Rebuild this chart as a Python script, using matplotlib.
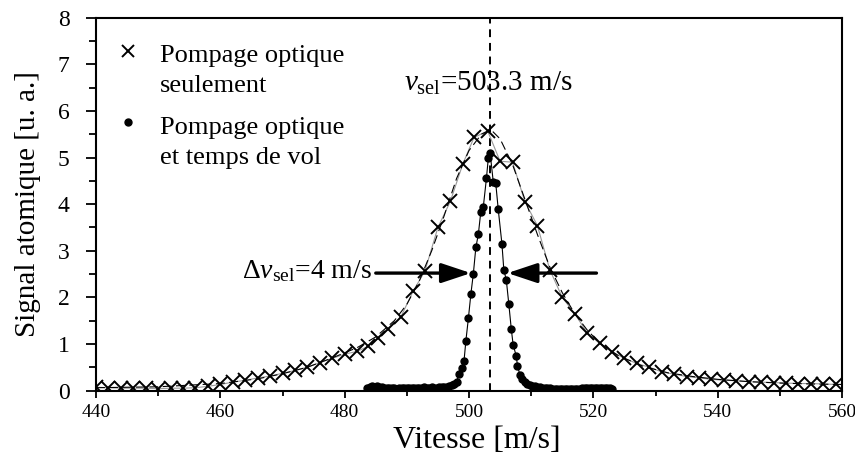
import numpy as np
import matplotlib.pyplot as plt

plt.rcParams['font.family'] = ['Liberation Serif', 'DejaVu Serif']
plt.rcParams['mathtext.fontset'] = 'custom'
plt.rcParams['mathtext.rm'] = 'Liberation Serif'
plt.rcParams['mathtext.it'] = 'Liberation Serif:italic'

# optical pumping only (crosses)
v_op = [440, 442, 444, 446, 448, 450, 452, 454, 456, 458, 460, 462, 464, 466, 468, 470,
        472, 474, 476, 478, 480, 482, 483.8, 485.4, 487, 489, 491, 492.9, 495, 497, 499,
        500.8, 503, 505, 507, 509, 511, 513, 515, 517, 519, 521, 523, 525, 527, 529, 531,
        533, 535, 537, 539, 541, 543, 545, 547, 549, 551, 553, 555, 557, 559]
s_op = [0.07, 0.06, 0.05, 0.05, 0.05, 0.04, 0.05, 0.05, 0.06, 0.09, 0.13, 0.18, 0.22, 0.27,
        0.31, 0.37, 0.43, 0.50, 0.60, 0.69, 0.78, 0.84, 0.95, 1.12, 1.31, 1.57, 2.13, 2.56,
        3.50, 4.06, 4.86, 5.43, 5.57, 4.92, 4.90, 4.05, 3.54, 2.59, 2.00, 1.65, 1.24, 1.01,
        0.83, 0.69, 0.58, 0.50, 0.40, 0.35, 0.30, 0.27, 0.24, 0.22, 0.21, 0.19, 0.18, 0.17,
        0.16, 0.15, 0.15, 0.14, 0.13]

# fitted curve (dashed)
v_fit = [440, 450, 460, 466, 470, 474, 478, 482, 485, 488, 490, 492, 494, 496, 498, 500,
         502, 503.5, 505, 507, 509, 511, 513, 515, 517, 519, 521, 524, 528, 532, 536, 540,
         545, 550, 555, 560]
s_fit = [0.06, 0.08, 0.15, 0.25, 0.36, 0.50, 0.70, 0.92, 1.15, 1.50, 1.85, 2.35, 3.00, 3.75,
         4.55, 5.15, 5.50, 5.60, 5.40, 4.85, 4.10, 3.35, 2.65, 2.10, 1.65, 1.30, 1.02, 0.75,
         0.52, 0.38, 0.30, 0.24, 0.19, 0.16, 0.14, 0.13]

# optical pumping + time of flight (dots)
v_tof = [483.6, 484.0, 484.4, 484.8, 485.2, 485.6, 486.0, 486.4, 486.8, 487.2, 487.6, 488.0,
         488.4, 488.8, 489.2, 489.6, 490.0, 490.4, 490.8, 491.2, 491.6, 492.0, 492.4, 492.8,
         493.2, 493.6, 494.0, 494.4, 494.8, 495.2, 495.6, 496.0, 496.4, 496.8, 497.2, 497.6,
         498.0, 498.4, 498.8, 499.2, 499.5, 499.9, 500.3, 500.7, 501.1, 501.5, 501.9, 502.3,
         502.8, 503.1, 503.4, 503.9, 504.3, 504.7, 505.3, 505.6, 506.0, 506.4, 506.8, 507.1,
         507.6, 507.8, 508.2, 508.6, 509.0, 509.4, 509.8, 510.2, 510.6, 511.0, 511.4, 511.8,
         512.2, 512.6, 513.0, 513.4, 513.8, 514.2, 514.6, 515.0, 515.4, 515.8, 516.2, 516.6,
         517.0, 517.4, 517.8, 518.2, 518.6, 519.0, 519.4, 519.8, 520.2, 520.6, 521.0, 521.4,
         521.8, 522.2, 522.6, 523.0]
s_tof = [0.06, 0.08, 0.09, 0.08, 0.09, 0.08, 0.07, 0.06, 0.06, 0.05, 0.05, 0.05,
         0.04, 0.05, 0.05, 0.06, 0.05, 0.05, 0.06, 0.06, 0.05, 0.06, 0.06, 0.07,
         0.06, 0.06, 0.07, 0.06, 0.06, 0.07, 0.07, 0.08, 0.08, 0.09, 0.11, 0.14,
         0.19, 0.35, 0.48, 0.64, 1.07, 1.55, 2.07, 2.51, 3.07, 3.35, 3.84, 3.94,
         4.55, 4.98, 5.09, 4.48, 4.45, 3.89, 3.14, 2.59, 2.37, 1.86, 1.32, 0.98,
         0.74, 0.53, 0.33, 0.25, 0.19, 0.15, 0.12, 0.10, 0.09, 0.08, 0.07, 0.06,
         0.06, 0.05, 0.05, 0.04, 0.04, 0.04, 0.03, 0.03, 0.03, 0.03, 0.03, 0.03,
         0.04, 0.04, 0.04, 0.05, 0.05, 0.05, 0.05, 0.06, 0.06, 0.06, 0.06, 0.05,
         0.05, 0.05, 0.05, 0.04]

v_sel = 503.3
labels = ['Pompage optique\nseulement', 'Pompage optique\net temps de vol']

fig = plt.figure(figsize=(8.55, 4.59), dpi=100)
ax = fig.add_axes([0.1123, 0.1492, 0.8725, 0.8122])

ax.plot(v_op, s_op, color='0.6', lw=0.8, zorder=2)
ax.plot(v_fit, s_fit, color='k', lw=0.8, ls=(0, (8, 4)), zorder=3)
ax.plot(v_op, s_op, ls='none', marker='x', ms=10, mew=1.4, color='k', zorder=4)
ax.plot(v_tof, s_tof, color='k', lw=0.8, marker='o', ms=5, zorder=5)

ax.axvline(v_sel, color='k', lw=1.4, ls=(0, (4, 3)), zorder=1)

ax.text(489.6, 6.6, r'$v_{\mathrm{sel}}$=503.3 m/s', ha='left', va='center', fontsize=21)
ax.text(484.3, 2.57, r'$\Delta v_{\mathrm{sel}}$=4 m/s', ha='right', va='center', fontsize=20)

arrow = dict(arrowstyle='-|>,head_length=1.8,head_width=0.6', mutation_scale=10,
             lw=2.4, color='k', shrinkA=0, shrinkB=0)
ax.annotate('', xy=(500.3, 2.52), xytext=(485.0, 2.52), arrowprops=arrow, zorder=6)
ax.annotate('', xy=(506.2, 2.52), xytext=(520.5, 2.52), arrowprops=arrow, zorder=6)

# legend drawn by hand: markers sit on the first line of each label
ax.plot([0.043], [0.912], transform=ax.transAxes, ls='none', marker='x', ms=9,
        mew=1.4, color='k', clip_on=False)
ax.plot([0.043], [0.720], transform=ax.transAxes, ls='none', marker='o', ms=5,
        color='k', clip_on=False)
ax.text(0.086, 0.800, labels[0], transform=ax.transAxes, ha='left', va='baseline',
        fontsize=19, linespacing=1.5)
ax.text(0.086, 0.607, labels[1], transform=ax.transAxes, ha='left', va='baseline',
        fontsize=19, linespacing=1.5)

ax.set_xlim(440, 560)
ax.set_ylim(0, 8)
ax.set_xticks(np.arange(440, 561, 20))
ax.set_xticks(np.arange(450, 560, 10), minor=True)
ax.set_yticks(np.arange(0, 9, 1))
ax.set_yticks(np.arange(0.5, 8, 1), minor=True)
ax.tick_params(axis='x', which='major', labelsize=14, length=5, width=1.3, pad=5)
ax.tick_params(axis='x', which='minor', length=3.5, width=1.3)
ax.tick_params(axis='y', which='major', labelsize=17, length=7, width=1.3, pad=12)
ax.tick_params(axis='y', which='minor', length=5, width=1.3)
for sp in ax.spines.values():
    sp.set_linewidth(1.5)

ax.set_xlabel('Vitesse [m/s]', fontsize=23, labelpad=3, x=0.511)
ax.set_ylabel('Signal atomique [u. a.]', fontsize=21, labelpad=12)

plt.savefig('out.png', dpi=100)
